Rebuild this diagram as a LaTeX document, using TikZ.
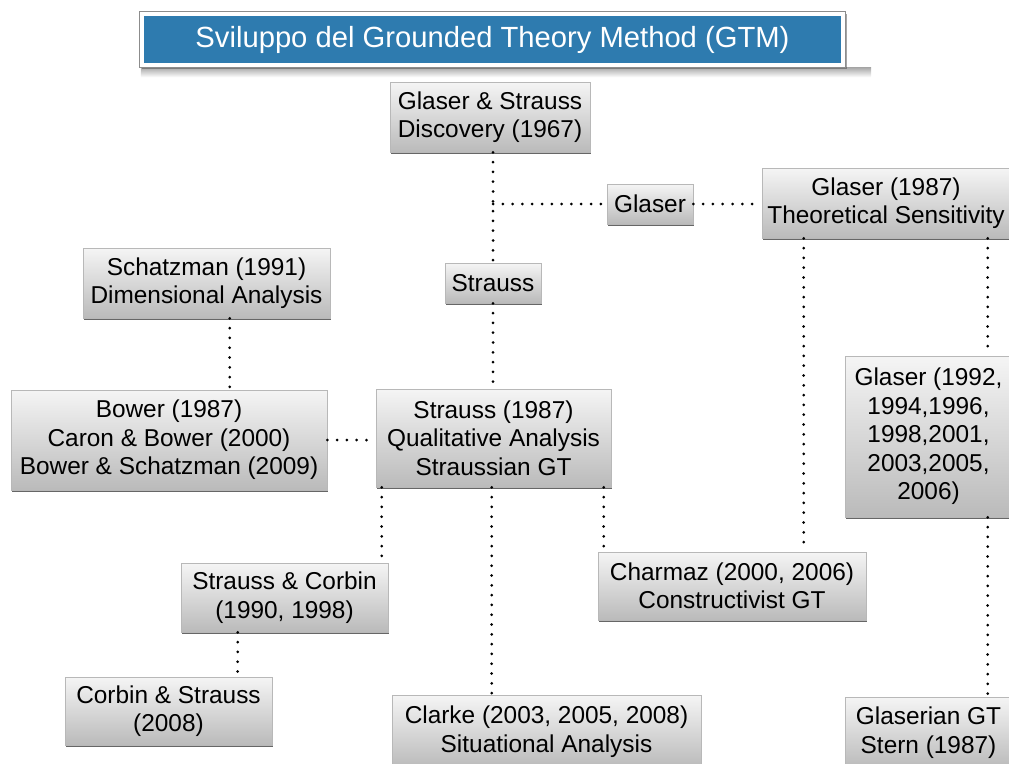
\documentclass[tikz,border=0pt]{standalone}
\usepackage{fontspec}
\setmainfont{Liberation Sans}
\usetikzlibrary{shadows,calc}
\definecolor{titleblue}{HTML}{2E7BAF}
\begin{document}
\begin{tikzpicture}[x=1pt,y=-1pt,
  box/.style 2 args={draw=black!28, line width=0.6pt,
    top color=white!96!black, bottom color=black!27,
    drop shadow={shadow xshift=1.2pt, shadow yshift=-2pt, opacity=0.75, fill=black!80},
    font=\fontsize{24.4}{28.5}\selectfont, align=center, inner sep=0pt,
    minimum width=#1pt, minimum height=#2pt},
  titlebox/.style={fill=titleblue, text=white, inner sep=0pt,
    minimum width=697pt, minimum height=47pt, font=\fontsize{29.2}{32}\selectfont},
  dotline/.style={line width=3pt, line cap=round, dash pattern=on 0pt off 9.8pt, black}]
\useasboundingbox (0,0) rectangle (1009,763);
\clip (0,0) rectangle (1009,763);

% title
\node[titlebox] (title) at (492.5,39.5) {\phantom{X}};
\shade[top color=black!35, bottom color=white]
  ([xshift=-3pt,yshift=-4pt]title.south west) rectangle ([xshift=30pt,yshift=-14pt]title.south east);
\draw[black!45, line width=0.8pt, fill=white,
  drop shadow={shadow xshift=2pt, shadow yshift=-2pt, opacity=0.5, fill=black!70}]
  ([xshift=-4pt,yshift=4pt]title.north west) rectangle ([xshift=4pt,yshift=-4pt]title.south east);
\node[titlebox] at (title) {Sviluppo del Grounded Theory Method (GTM)};

% boxes
\node[box={200}{70}] (disc) at (490,117) {Glaser \& Strauss\\Discovery (1967)};
\node[box={86}{40}] (glaser) at (650,204) {Glaser};
\node[box={248}{70}] (gl87) at (886,203) {Glaser (1987)\\Theoretical Sensitivity};
\node[box={96}{40}] (strauss) at (493,283) {Strauss};
\node[box={247}{70}] (schatz) at (206.5,283) {Schatzman (1991)\\Dimensional Analysis};
\node[box={316}{100}] (bower) at (169,440) {Bower (1987)\\Caron \& Bower (2000)\\Bower \& Schatzman (2009)};
\node[box={235}{98}] (s87) at (493.5,438) {Strauss (1987)\\Qualitative Analysis\\Straussian GT};
\node[box={167}{161}] (gl92) at (928.5,436.5) {Glaser (1992,\\1994,1996,\\1998,2001,\\2003,2005,\\2006)};
\node[box={207}{69}] (sc) at (284.5,597.5) {Strauss \& Corbin\\(1990, 1998)};
\node[box={268}{68}] (charmaz) at (732,586) {Charmaz (2000, 2006)\\Constructivist GT};
\node[box={207}{68}] (cs) at (168.5,711) {Corbin \& Strauss\\(2008)};
\node[box={309}{73}] (clarke) at (546.5,731.5) {Clarke (2003, 2005, 2008)\\Situational Analysis};
\node[box={167}{71}] (glaserian) at (928.5,732.5) {Glaserian GT\\Stern (1987)};

% connectors
\coordinate (jx) at (strauss.north |- glaser.west);
\draw[dotline] (strauss |- disc.south) -- (strauss.north);
\draw[dotline] (jx) -- (glaser.west);
\draw[dotline] (glaser.east) -- (glaser.east -| gl87.west);
\draw[dotline] (strauss.south) -- (strauss.south |- s87.north);
\coordinate (a) at ($(gl87.south west)+(42,0)$);
\draw[dotline] (a) -- (a |- charmaz.north);
\coordinate (b) at ($(gl87.south west)+(226,0)$);
\draw[dotline] (b) -- (b |- gl92.north);
\draw[dotline] (b |- gl92.south) -- (b |- glaserian.north);
\coordinate (c) at ($(schatz.south west)+(147,0)$);
\draw[dotline] (c) -- (c |- bower.north);
\draw[dotline] (bower.east) -- (bower.east -| s87.west);
\coordinate (d1) at ($(s87.south west)+(6,0)$);
\coordinate (d2) at ($(s87.south west)+(116,0)$);
\coordinate (d3) at ($(s87.south west)+(228,0)$);
\draw[dotline] (d1) -- (d1 |- sc.north);
\draw[dotline] (d2) -- (d2 |- clarke.north);
\draw[dotline] (d3) -- (d3 |- charmaz.north);
\coordinate (e) at ($(sc.south west)+(57,0)$);
\draw[dotline] (e) -- (e |- cs.north);
\end{tikzpicture}
\end{document}
